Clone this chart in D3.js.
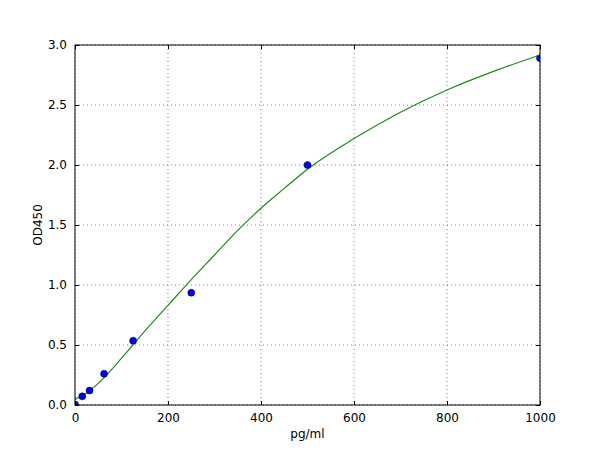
<!DOCTYPE html>
<html>
<head>
<meta charset="utf-8">
<script src="https://cdn.jsdelivr.net/npm/d3@7"></script>
<style>
  body { margin: 0; background: #fff; }
  text { font-family: "DejaVu Sans", sans-serif; }
</style>
</head>
<body>
<svg id="chart" width="600" height="450"></svg>
<script>
// standards measured
const conc = [0, 15.6, 31.25, 62.5, 125, 250, 500, 1000];
const od = [0.005, 0.072, 0.12, 0.26, 0.536, 0.936, 2.0, 2.89];

// fitted curve
const fitX = [0, 25, 50, 75, 100, 150, 200, 250, 300, 350, 400, 450, 500, 600, 700, 800, 900, 1000];
const fitY = [0.047, 0.1, 0.18, 0.28, 0.39, 0.615, 0.83, 1.045, 1.25, 1.455, 1.64, 1.805, 1.965, 2.22, 2.44, 2.625, 2.78, 2.917];

const xTicks = [0, 200, 400, 600, 800, 1000];
const yTicks = [0.0, 0.5, 1.0, 1.5, 2.0, 2.5, 3.0];

const margin = {top: 45, right: 60, bottom: 45, left: 75};
const width = 600 - margin.left - margin.right;
const height = 450 - margin.top - margin.bottom;

const svg = d3.select("#chart");
const g = svg.append("g")
    .attr("transform", `translate(${margin.left},${margin.top})`);

const x = d3.scaleLinear().domain([0, 1000]).range([0, width]);
const y = d3.scaleLinear().domain([0, 3]).range([height, 0]);

// grid
g.append("g")
   .selectAll("line")
   .data(xTicks)
   .enter().append("line")
   .attr("x1", d => x(d)).attr("x2", d => x(d))
   .attr("y1", 0).attr("y2", height)
   .attr("stroke", "#000")
   .attr("stroke-width", 0.5)
   .attr("stroke-dasharray", "1,3");

g.append("g")
   .selectAll("line")
   .data(yTicks)
   .enter().append("line")
   .attr("x1", 0).attr("x2", width)
   .attr("y1", d => y(d)).attr("y2", d => y(d))
   .attr("stroke", "#000")
   .attr("stroke-width", 0.5)
   .attr("stroke-dasharray", "1,3");

// curve
const line = d3.line()
    .x((d, i) => x(fitX[i]))
    .y(d => y(d))
    .curve(d3.curveMonotoneX);

g.append("path")
   .datum(fitY)
   .attr("d", line)
   .attr("fill", "none")
   .attr("stroke", "#1a8c1a")
   .attr("stroke-width", 1.2);

// points (clipped to frame like matplotlib)
g.append("clipPath").attr("id", "clip")
   .append("rect").attr("width", width).attr("height", height);

g.append("g")
   .attr("clip-path", "url(#clip)")
   .selectAll("circle")
   .data(od)
   .enter().append("circle")
   .attr("cx", (d, i) => x(conc[i]))
   .attr("cy", d => y(d))
   .attr("r", 3.5)
   .attr("fill", "#0000ff")
   .attr("stroke", "#000")
   .attr("stroke-width", 0.5);

// axes, ticks pointing inward on all four sides
const fmtY = d3.format(".1f");
const fmtX = d3.format("d");
const bottomAxis = g.append("g")
   .attr("transform", `translate(0,${height})`)
   .call(d3.axisBottom(x).tickValues(xTicks).tickSizeInner(-4).tickSizeOuter(0).tickPadding(8).tickFormat(fmtX));
const topAxis = g.append("g")
   .call(d3.axisTop(x).tickValues(xTicks).tickSizeInner(-4).tickSizeOuter(0).tickFormat(""));
const leftAxis = g.append("g")
   .call(d3.axisLeft(y).tickValues(yTicks).tickSizeInner(-4).tickSizeOuter(0).tickPadding(8).tickFormat(fmtY));
const rightAxis = g.append("g")
   .attr("transform", `translate(${width},0)`)
   .call(d3.axisRight(y).tickValues(yTicks).tickSizeInner(-4).tickSizeOuter(0).tickFormat(""));

[bottomAxis, topAxis, leftAxis, rightAxis].forEach(a => {
  a.select(".domain").remove();
  a.selectAll("text")
   .style("font-size", "12px")
   .style("font-family", "DejaVu Sans")
   .attr("fill", "#000");
  a.selectAll("line").attr("stroke", "#000");
});

// frame
g.append("rect")
   .attr("width", width)
   .attr("height", height)
   .attr("fill", "none")
   .attr("stroke", "#000")
   .attr("stroke-width", 1);

// labels
svg.append("text")
   .attr("x", margin.left + width / 2)
   .attr("y", 438)
   .attr("text-anchor", "middle")
   .style("font-size", "12px")
   .text("pg/ml");

svg.append("text")
   .attr("transform", `translate(42,${margin.top + height / 2}) rotate(-90)`)
   .attr("text-anchor", "middle")
   .style("font-size", "12px")
   .text("OD450");
</script>
</body>
</html>
